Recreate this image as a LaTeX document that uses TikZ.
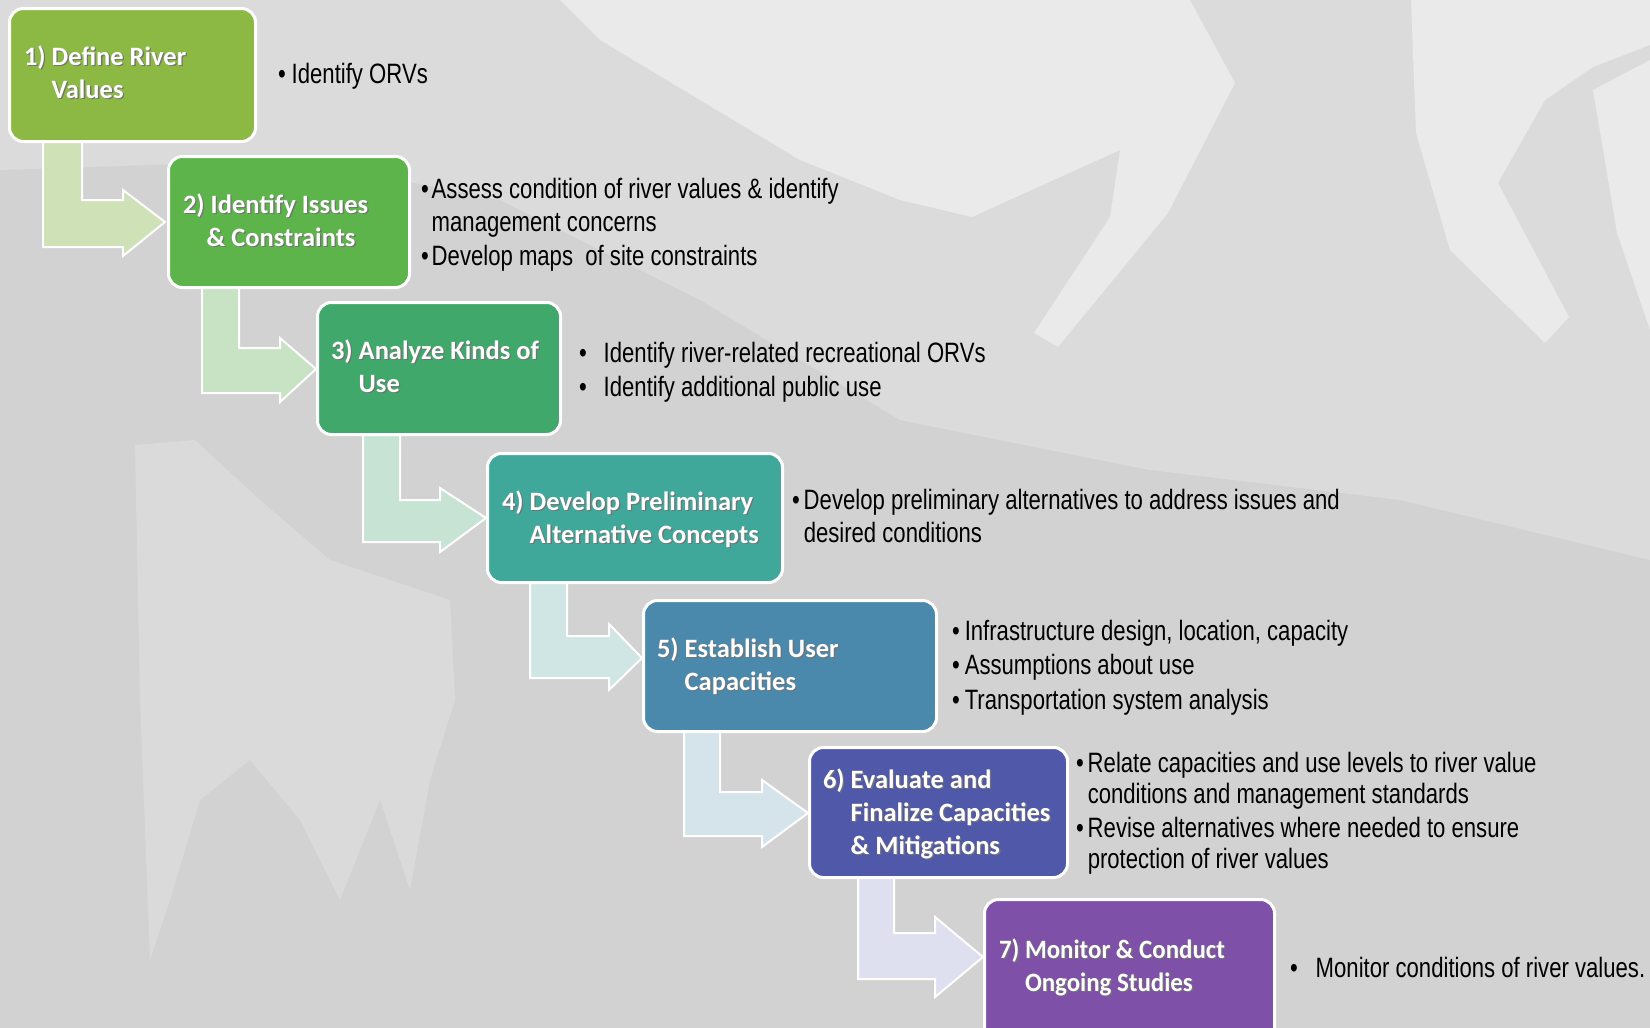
\documentclass[tikz,border=0pt]{standalone}
\usepackage{fontspec}
\setmainfont{Liberation Sans}
\newfontfamily\bodyf{Liberation Sans}[FakeStretch=0.79]
\newfontfamily\labf{Carlito}
\newfontfamily\labnarrow{Carlito}[FakeStretch=0.94]
\definecolor{bgbase}{HTML}{D2D2D2}
\definecolor{bglight}{HTML}{DBDBDB}
\definecolor{bgsnow}{HTML}{EAEAEA}
\definecolor{bgtree}{HTML}{DADADA}
\definecolor{cA}{HTML}{8CB943}
\definecolor{cB}{HTML}{5CB44A}
\definecolor{cC}{HTML}{3FA86A}
\definecolor{cD}{HTML}{40A89B}
\definecolor{cE}{HTML}{4A88AC}
\definecolor{cF}{HTML}{5058A9}
\definecolor{cG}{HTML}{7E50A8}
\definecolor{aA}{HTML}{CFE1B6}
\definecolor{aB}{HTML}{C8E3C3}
\definecolor{aC}{HTML}{C6E3D4}
\definecolor{aD}{HTML}{CFE6E4}
\definecolor{aE}{HTML}{D5E3EB}
\definecolor{aF}{HTML}{DEDFEF}
\newcommand\shtext[1]{\makebox[0pt][l]{\raisebox{-1.3pt}{\hspace*{1.3pt}\color{black!55}#1}}#1}
\newcommand\steplab[2]{\shtext{#1\ \begin{tabular}[t]{@{}l@{}}#2\end{tabular}}}
\tikzset{
  stepbox/.style={draw=white, line width=3pt, rounded corners=14pt, outer sep=0pt, inner sep=0pt},
  bendarr/.style={draw=white, line width=2pt, line join=miter},
  lbl/.style={anchor=base west, inner sep=0pt, outer sep=0pt, text=white,
              font=\labf\bfseries\fontsize{26.5}{33}\selectfont},
  bul/.style={anchor=base west, inner sep=0pt, outer sep=0pt, text=black},
}
\begin{document}
\begin{tikzpicture}[x=1pt,y=-1pt]
\useasboundingbox (0,0) rectangle (1650,1028);
% background (faint photo)
\fill[bgbase] (0,0) rectangle (1650,1028);
\fill[bglight] (0,0) -- (1650,0) -- (1650,560) -- (1400,500) -- (1150,470) -- (900,420) -- (700,300) -- (500,200) -- (300,160) -- (0,170) -- cycle;
\fill[bgsnow] (560,0) -- (1190,0) -- (1235,83) -- (1168,213) -- (1058,347) -- (1034,333) -- (1110,217) -- (1120,150) -- (972,217) -- (900,200) -- (800,160) -- (700,100) -- (600,40) -- cycle;
\fill[bgsnow] (1411,0) -- (1650,0) -- (1650,45) -- (1593,67) -- (1545,100) -- (1498,183) -- (1569,317) -- (1545,343) -- (1450,250) -- (1416,133) -- cycle;
\fill[bgsnow] (1593,90) -- (1650,60) -- (1650,330) -- (1617,233) -- cycle;
\fill[bgtree] (135,445) -- (195,440) -- (260,500) -- (330,560) -- (450,600) -- (455,700) -- (430,780) -- (410,890) -- (380,800) -- (340,900) -- (300,820) -- (250,760) -- (200,800) -- (170,900) -- (150,960) -- (140,700) -- cycle;

% arrows
\draw[bendarr, fill=aA] (43,135) -- (82,135) -- (82,200) -- (123,200) -- (123,190) -- (165,222) -- (123,256) -- (123,247) -- (43,247) -- cycle;
\draw[bendarr, fill=aB] (202,282) -- (239,282) -- (239,348) -- (280,348) -- (280,338) -- (316,369) -- (280,402) -- (280,393) -- (202,393) -- cycle;
\draw[bendarr, fill=aC] (363,429) -- (400,429) -- (400,500) -- (440,500) -- (440,488) -- (486,518) -- (440,552) -- (440,542) -- (363,542) -- cycle;
\draw[bendarr, fill=aD] (530,577) -- (567,577) -- (567,636) -- (609,636) -- (609,624) -- (642,658) -- (609,690) -- (609,678) -- (530,678) -- cycle;
\draw[bendarr, fill=aE] (684,726) -- (720,726) -- (720,792) -- (762,792) -- (762,780) -- (808,813) -- (762,847) -- (762,836) -- (684,836) -- cycle;
\draw[bendarr, fill=aF] (858,872) -- (894,872) -- (894,933) -- (935,933) -- (935,917) -- (983,957) -- (935,997) -- (935,979) -- (858,979) -- cycle;

% boxes
\node[stepbox, fill=cA, minimum width=246pt, minimum height=133pt] (b1) at (132.5,75) {};
\node[stepbox, fill=cB, minimum width=241pt, minimum height=131pt] (b2) at (289,222) {};
\node[stepbox, fill=cC, minimum width=243pt, minimum height=132pt] (b3) at (439,368.5) {};
\node[stepbox, fill=cD, minimum width=295pt, minimum height=129pt] (b4) at (635,518) {};
\node[stepbox, fill=cE, minimum width=293pt, minimum height=131pt] (b5) at (790,666) {};
\node[stepbox, fill=cF, minimum width=258pt, minimum height=130pt] (b6) at (938.5,812.5) {};
\node[stepbox, fill=cG, minimum width=290pt, minimum height=150pt] (b7) at (1129.5,974.5) {};

% labels
\node[lbl] (l1) at (24,65) {\steplab{1)}{Define River\\Values}};
\node[lbl] (l2) at (183,213) {\steplab{2)}{Identify Issues\\\hspace*{-4pt}\& Constraints}};
\node[lbl] (l3) at (331,359) {\steplab{3)}{Analyze Kinds of\\Use}};
\node[lbl] (l4) at (502,510) {\steplab{4)}{Develop Preliminary\\Alternative Concepts}};
\node[lbl] (l5) at (657,657) {\steplab{5)}{Establish User\\Capacities}};
\node[lbl] (l6) at (823,788) {\steplab{6)}{Evaluate and\\Finalize Capacities\\\& Mitigations}};
\node[lbl, font=\labnarrow\bfseries\fontsize{26.5}{33}\selectfont] (l7) at (999,958) {\steplab{7)}{Monitor \& Conduct\\Ongoing Studies}};

% bullet texts
\node[bul, font=\bodyf\fontsize{28}{33}\selectfont] (t1) at (278,83)
  {\begin{tabular}[t]{@{}l@{\hspace{6pt}}l@{}}•&Identify ORVs\end{tabular}};
\node[bul, font=\bodyf\fontsize{28}{33.5}\selectfont] (t2) at (421,198)
  {\begin{tabular}[t]{@{}l@{\hspace{3pt}}l@{}}•&Assess condition of river values \& identify\\&management concerns\\•&Develop maps\ \ of site constraints\end{tabular}};
\node[bul, font=\bodyf\fontsize{28}{34}\selectfont] (t3) at (579,362)
  {\begin{tabular}[t]{@{}l@{\hspace{17pt}}l@{}}•&Identify river-related recreational ORVs\\•&Identify additional public use\end{tabular}};
\node[bul, font=\bodyf\fontsize{28}{33}\selectfont] (t4) at (792,509)
  {\begin{tabular}[t]{@{}l@{\hspace{4pt}}l@{}}•&Develop preliminary alternatives to address issues and\\&desired conditions\end{tabular}};
\node[bul, font=\bodyf\fontsize{28}{34.5}\selectfont] (t5) at (952,640)
  {\begin{tabular}[t]{@{}l@{\hspace{5pt}}l@{}}•&Infrastructure design, location, capacity\\•&Assumptions about use\\•&Transportation system analysis\end{tabular}};
\node[bul, font=\bodyf\fontsize{28}{31}\selectfont] (t6) at (1076,772)
  {\begin{tabular}[t]{@{}l@{\hspace{4pt}}l@{}}•&Relate capacities and use levels to river value\\&conditions and management standards\\[3pt]•&Revise alternatives where needed to ensure\\&protection of river values\end{tabular}};
\node[bul, font=\bodyf\fontsize{28}{33}\selectfont] (t7) at (1290,977)
  {\begin{tabular}[t]{@{}l@{\hspace{18pt}}l@{}}•&Monitor conditions of river values.\end{tabular}};
\end{tikzpicture}
\end{document}
